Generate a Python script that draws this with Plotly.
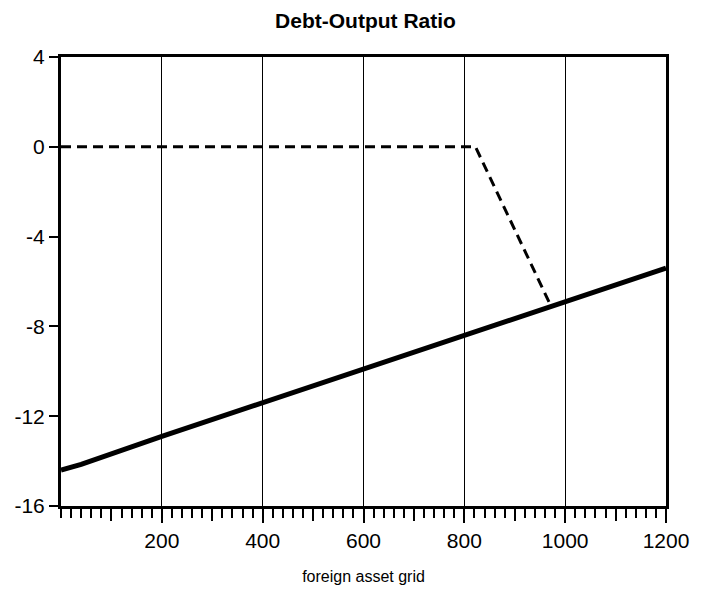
import plotly.graph_objects as go

# Data
grid_x = [0, 40, 200, 400, 600, 800, 1000, 1200]
ratio_solid = [-14.4, -14.15, -12.9, -11.4, -9.9, -8.4, -6.9, -5.4]
dash_x = [0, 822, 972]
ratio_dash = [0.0, 0.0, -7.1]

x_ticks = [200, 400, 600, 800, 1000, 1200]
x_tick_text = ["200", "400", "600", "800", "1000", "1200"]
x_mid_ticks = [100, 300, 500, 700, 900, 1100]
y_ticks = [4, 0, -4, -8, -12, -16]
y_tick_text = ["4", "0", "-4", "-8", "-12", "-16"]

FONT = "Liberation Sans, Arial, sans-serif"

fig = go.Figure()
fig.add_trace(go.Scatter(x=grid_x, y=ratio_solid, mode="lines",
                         line=dict(color="black", width=5), showlegend=False))
fig.add_trace(go.Scatter(x=dash_x, y=ratio_dash, mode="lines",
                         line=dict(color="black", width=3, dash="10px,6px"),
                         showlegend=False))

fig.update_layout(
    width=701, height=595,
    margin=dict(l=61, r=31, t=57, b=79),
    paper_bgcolor="white", plot_bgcolor="white",
    font=dict(family=FONT, color="black"),
    title=dict(text="<b>Debt-Output Ratio</b>", x=(61 + 670) / 2 / 701, xanchor="center",
               y=1 - 21 / 595, yanchor="middle", font=dict(size=21, color="black")),
    xaxis=dict(range=[0, 1200], tickvals=x_ticks, ticktext=x_tick_text,
               ticks="outside", ticklen=14, tickwidth=1.5, tickcolor="black",
               showgrid=True, gridcolor="black", gridwidth=1,
               showline=True, linecolor="black", linewidth=3, mirror=True,
               zeroline=False, tickfont=dict(size=21),
               minor=dict(dtick=20, tick0=0, ticks="outside", ticklen=9,
                          tickwidth=1.5, tickcolor="black", showgrid=False),
               title=dict(text="foreign asset grid", font=dict(size=16), standoff=20)),
    xaxis2=dict(range=[0, 1200], overlaying="x", side="bottom", anchor="y",
                tickvals=x_mid_ticks, showticklabels=False, ticks="outside",
                ticklen=14, tickwidth=1.5, tickcolor="black", showgrid=False,
                showline=False, zeroline=False),
    yaxis=dict(range=[-16, 4], tickvals=y_ticks, ticktext=y_tick_text,
               ticks="outside", ticklen=9, tickwidth=1.5, tickcolor="black",
               showgrid=False, zeroline=False,
               showline=True, linecolor="black", linewidth=3, mirror=True,
               tickfont=dict(size=21)),
)
fig.add_trace(go.Scatter(x=[0], y=[None], xaxis="x2", showlegend=False, hoverinfo="skip"))

fig.write_html("out.html")
